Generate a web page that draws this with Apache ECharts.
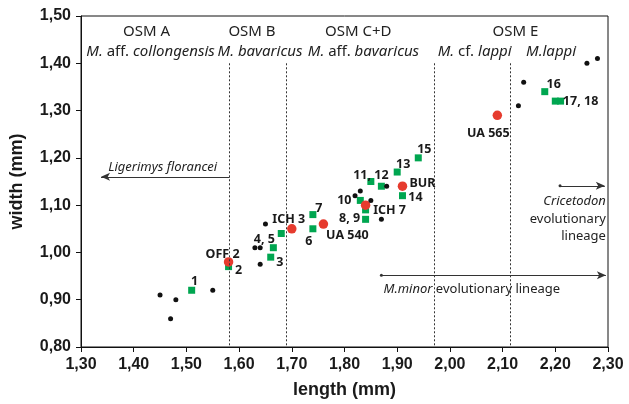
<!DOCTYPE html>
<html><head><meta charset="utf-8">
<script src="https://cdn.jsdelivr.net/npm/echarts@6/dist/echarts.min.js"></script>
<style>html,body{margin:0;padding:0;background:#fff}#c{width:629px;height:404px}</style>
</head><body><div id="c"></div>
<script>
// ---- data ----
var blackLength = [1.45,1.47,1.48,1.55,1.63,1.64,1.64,1.65,1.82,1.83,1.85,1.87,1.88,2.13,2.14,2.26,2.28];
var blackWidth  = [0.91,0.86,0.90,0.92,1.01,1.01,0.975,1.06,1.12,1.13,1.11,1.07,1.14,1.31,1.36,1.40,1.41];

var greenLength = [1.51,1.58,1.66,1.665,1.68,1.74,1.74,1.84,1.84,1.83,1.85,1.87,1.90,1.91,1.94,2.18,2.20,2.21];
var greenWidth  = [0.92,0.97,0.99,1.01,1.04,1.05,1.08,1.07,1.09,1.11,1.15,1.14,1.17,1.12,1.20,1.34,1.32,1.32];
var greenLabels = ['1','2','3','4, 5','','6','7','8, 9','','10','11, 12','','13','14','15','16','','17, 18'];

var redLength = [1.58,1.70,1.76,1.84,1.91,2.09];
var redWidth  = [0.98,1.05,1.06,1.10,1.14,1.29];
var redLabels = ['OFF 2','ICH 3','UA 540','ICH 7','BUR','UA 565'];

var zoneBounds = [1.582,1.69,1.97,2.115];
var xTicks = {min:1.3, max:2.3, step:0.1};
var yTicks = {min:0.8, max:1.5, step:0.1};

// ---- label placement (pixels, relative to point) ----
var labelOffset = {
 '1':[3,-9],'2':[10,4],'3':[9,5],'4, 5':[-9,-8],'6':[-4,13],'7':[6,-6],'8, 9':[-16,-1],'10':[-16,0],
 '11, 12':[0,-6],'13':[6,-8],'14':[13,2],'15':[6,-8],'16':[9,-7],'17, 18':[20,0],
 'OFF 2':[-6,-7],'ICH 3':[-3,-9],'UA 540':[24,11],'ICH 7':[24,5],'BUR':[20,-3],'UA 565':[-9,18]
};
var labelFont = {fontFamily:'Noto Sans',fontWeight:'bold',fontSize:12.5,color:'#1a1a1a'};

function items(xs,ys,labels){
  return xs.map(function(x,i){
    var it = {value:[x,ys[i]]};
    var t = labels ? labels[i] : '';
    if(t){ it.name=t; it.label=Object.assign({show:true,position:'inside',formatter:t,offset:labelOffset[t]||[0,0],align:'center',verticalAlign:'middle'},labelFont); }
    return it;
  });
}
function fmt(v){ return v.toFixed(2).replace('.',','); }

var chart = echarts.init(document.getElementById('c'),null,{renderer:'canvas'});
var dash = {color:'#333',width:1,type:[2,2]};
var arrowStyle = {color:'#333',width:1,type:'solid'};

var option = {
  animation:false,
  grid:{left:78,right:21,top:16,bottom:55,show:true,borderColor:'#111',borderWidth:1,backgroundColor:'transparent'},
  xAxis:{type:'value',min:xTicks.min,max:xTicks.max,interval:xTicks.step,
    name:'length (mm)',nameLocation:'middle',nameGap:34,
    nameTextStyle:{fontFamily:'Liberation Sans',fontWeight:'bold',fontSize:18,color:'#1a1a1a'},
    axisLine:{lineStyle:{color:'#111',width:1}},axisTick:{inside:false,length:5,lineStyle:{color:'#111'}},
    splitLine:{show:false},
    axisLabel:{formatter:fmt,margin:10,fontFamily:'Liberation Sans',fontWeight:'bold',fontSize:16,color:'#1a1a1a'}},
  yAxis:{type:'value',min:yTicks.min,max:yTicks.max,interval:yTicks.step,
    name:'width (mm)',nameLocation:'middle',nameGap:55,
    nameTextStyle:{fontFamily:'Liberation Sans',fontWeight:'bold',fontSize:18,color:'#1a1a1a'},
    axisLine:{lineStyle:{color:'#111',width:1}},axisTick:{inside:false,length:5,lineStyle:{color:'#111'}},
    splitLine:{show:false},
    axisLabel:{formatter:fmt,margin:10,fontFamily:'Liberation Sans',fontWeight:'bold',fontSize:16,color:'#1a1a1a'}},
  series:[
    {type:'scatter',name:'zones',data:[],silent:true,
     markLine:{silent:true,symbol:['none','none'],label:{show:false},lineStyle:dash,
       data:zoneBounds.map(function(b){return [{coord:[b,1.40]},{coord:[b,0.80]}];})}},
    {type:'scatter',name:'arrows',data:[],silent:true,
     markLine:{silent:true,label:{show:false},lineStyle:arrowStyle,symbolSize:[6,9],
       data:[
         [{coord:[1.582,1.16],symbol:'none'},{coord:[1.338,1.16],symbol:'arrow'}],
         [{coord:[2.209,1.141],symbol:'circle',symbolSize:3},{coord:[2.294,1.141],symbol:'arrow'}],
         [{coord:[1.870,0.952],symbol:'circle',symbolSize:3},{coord:[2.296,0.952],symbol:'arrow'}]
       ]}},
    {type:'scatter',name:'green',symbol:'rect',symbolSize:7,itemStyle:{color:'#00a650',opacity:1},z:3,
     data:items(greenLength,greenWidth,greenLabels)},
    {type:'scatter',name:'red',symbol:'circle',symbolSize:9.5,itemStyle:{color:'#e63b2e',opacity:1},z:4,
     data:items(redLength,redWidth,redLabels)},
    {type:'scatter',name:'black',symbol:'circle',symbolSize:5,itemStyle:{color:'#111',opacity:1},z:5,
     data:items(blackLength,blackWidth,null)}
  ]
};
chart.setOption(option);

// ---- annotation texts placed in data coordinates ----
var ann = [
  {t:'OSM A',x:1.4245,y:1.467},
  {t:'OSM B',x:1.6245,y:1.467},
  {t:'OSM C+D',x:1.826,y:1.467},
  {t:'OSM E',x:2.1245,y:1.467},
  {t:'{i|M.} aff. {i|collongensis}',x:1.432,y:1.425},
  {t:'{i|M. bavaricus}',x:1.6396,y:1.425},
  {t:'{i|M.} aff. {i|bavaricus}',x:1.836,y:1.425},
  {t:'{i|M.} cf. {i|lappi}',x:2.047,y:1.425},
  {t:'{i|M.lappi}',x:2.192,y:1.425},
  {t:'{i|Ligerimys florancei}',x:1.455,y:1.179,fs:13},
  {t:'{i|M.minor} evolutionary lineage',x:2.0415,y:0.922,fs:13},
  {t:'{i|Cricetodon}',x:2.296,y:1.109,fs:13,al:'right'},
  {t:'evolutionary',x:2.296,y:1.071,fs:13,al:'right'},
  {t:'lineage',x:2.296,y:1.035,fs:13,al:'right'}
];
var g = ann.map(function(a){
  var p = chart.convertToPixel({gridIndex:0},[a.x,a.y]);
  var fs = a.fs||15;
  return {type:'text',x:p[0],y:p[1],silent:true,z:10,
    style:{text:a.t,align:a.al||'center',verticalAlign:'middle',fontFamily:'Noto Sans',fontSize:fs,fill:'#222',
      rich:{i:{fontStyle:'italic',fontFamily:'Noto Sans',fontSize:fs,fill:'#222'}}}};
});
chart.setOption({graphic:g});
</script></body></html>
